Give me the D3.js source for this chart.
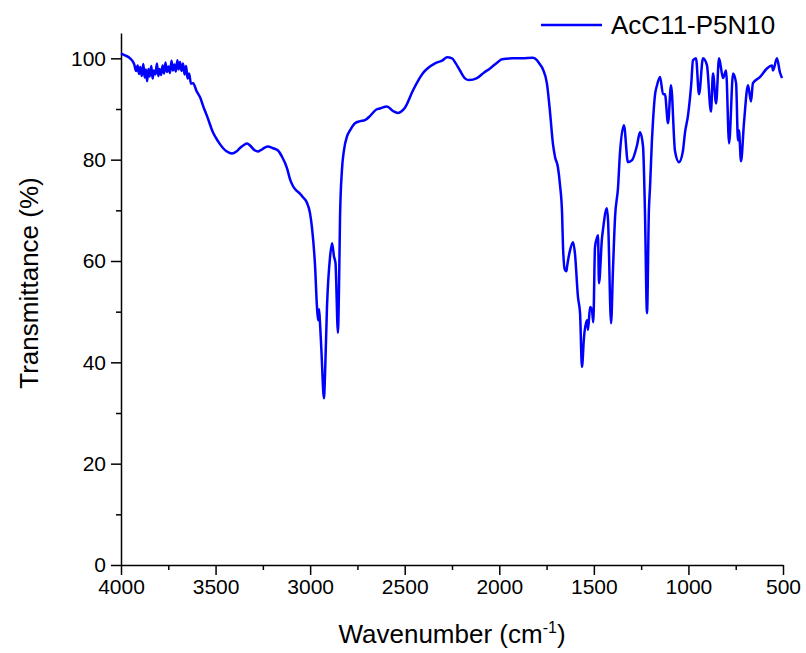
<!DOCTYPE html>
<html>
<head>
<meta charset="utf-8">
<script src="https://cdn.jsdelivr.net/npm/d3@7"></script>
<style>
  body { margin: 0; background: #fff; }
  svg text { font-family: "Liberation Sans", Arial, sans-serif; fill: #000; }
</style>
</head>
<body>
<svg id="chart" width="806" height="653"></svg>
<script>
// spectrum (wavenumber in cm-1, transmittance in %)
var wavenumber = [
  4000, 3979, 3952, 3930, 3920, 3912, 3905, 3898, 3890, 3882, 3875, 3868, 3862, 3855, 3848,
  3840, 3833, 3826, 3818, 3810, 3803, 3796, 3788, 3780, 3772, 3765, 3757, 3749, 3741, 3733,
  3726, 3718, 3710, 3702, 3695, 3688, 3680, 3672, 3664, 3656, 3648, 3640, 3630, 3619, 3600,
  3582, 3560, 3545, 3514, 3490, 3461, 3440, 3413, 3390, 3371, 3350, 3334, 3315, 3295, 3276,
  3260, 3240, 3223, 3200, 3170, 3149, 3122, 3107, 3091, 3080, 3054, 3038, 3017, 3001, 2990,
  2974, 2964, 2958, 2953, 2948, 2940, 2927, 2921, 2911, 2895, 2884, 2874, 2866, 2853, 2847,
  2842, 2832, 2821, 2805, 2789, 2763, 2736, 2710, 2684, 2650, 2631, 2594, 2562, 2536, 2515,
  2498, 2456, 2403, 2340, 2300, 2276, 2250, 2230, 2208, 2180, 2160, 2118, 2080, 2049, 2010,
  1986, 1928, 1880, 1822, 1800, 1785, 1769, 1748, 1732, 1716, 1705, 1690, 1679, 1668, 1663,
  1653, 1645, 1642, 1626, 1610, 1600, 1584, 1573, 1563, 1552, 1536, 1531, 1520, 1510, 1503,
  1494, 1484, 1478, 1473, 1457, 1452, 1431, 1425, 1409, 1399, 1388, 1372, 1362, 1341, 1320,
  1298, 1272, 1256, 1240, 1230, 1219, 1209, 1203, 1193, 1187, 1177, 1166, 1150, 1134, 1124,
  1108, 1092, 1071, 1050, 1030, 1018, 1002, 985, 976, 960, 944, 923, 902, 881, 870,
  854, 838, 817, 801, 785, 764, 748, 738, 733, 722, 706, 685, 669, 659, 622,
  585, 558, 553, 532, 516, 505
];
var transmittance = [
  101.0, 100.6, 100.0, 98.8, 97.5, 98.6, 96.9, 98.3, 96.5, 98.9, 96.2, 97.8, 95.5, 97.9, 96.4,
  98.5, 96.0, 97.6, 96.8, 99.0, 96.5, 97.9, 96.7, 98.6, 97.0, 99.2, 97.3, 98.4, 97.1, 99.5,
  97.6, 98.8, 97.4, 99.6, 97.8, 99.3, 97.5, 99.0, 96.8, 98.5, 96.0, 97.0, 95.0, 95.1, 93.5,
  92.3, 90.0, 88.6, 85.4, 83.8, 82.3, 81.6, 81.2, 81.6, 82.3, 82.9, 83.2, 82.7, 81.9, 81.6,
  81.9, 82.4, 82.6, 82.3, 81.8, 80.6, 78.3, 76.2, 74.8, 74.2, 73.3, 72.6, 71.5, 69.5, 66.5,
  59.0, 51.0, 48.3, 50.5, 47.9, 42.0, 32.9, 38.0, 50.9, 60.7, 63.5, 60.9, 59.6, 45.8, 55.6,
  68.6, 77.9, 81.9, 84.6, 85.8, 87.2, 87.6, 87.8, 88.6, 89.9, 90.1, 90.5, 89.6, 89.2, 89.6,
  90.3, 93.7, 97.1, 99.0, 99.6, 100.2, 100.0, 99.0, 97.6, 96.0, 95.7, 96.1, 97.2, 98.0, 99.2,
  99.8, 100.0, 100.0, 100.1, 99.6, 98.8, 97.8, 95.0, 89.5, 83.0, 80.5, 78.5, 75.0, 69.4, 62.7,
  58.2, 58.0, 58.8, 62.1, 63.7, 61.5, 52.9, 49.7, 39.1, 45.0, 48.3, 46.4, 50.9, 50.3, 47.9,
  62.7, 64.5, 65.1, 55.6, 64.5, 66.1, 70.4, 68.0, 47.7, 58.2, 68.6, 74.6, 81.3, 86.8, 79.5,
  79.9, 82.8, 85.4, 82.6, 70.0, 49.7, 70.0, 74.6, 83.8, 87.8, 92.7, 94.7, 96.3, 92.9, 92.9,
  87.2, 94.7, 81.7, 79.5, 81.5, 85.4, 88.8, 95.0, 99.6, 100.0, 92.9, 100.0, 98.6, 89.5, 97.0,
  91.1, 100.0, 96.1, 97.6, 83.2, 97.0, 95.1, 83.8, 85.8, 79.7, 87.4, 94.7, 91.5, 95.1, 96.3,
  98.0, 98.6, 97.6, 100.0, 97.2, 96.1
];
var xTicks = [4000, 3500, 3000, 2500, 2000, 1500, 1000, 500];
var yTicks = [0, 20, 40, 60, 80, 100];
var seriesName = "AcC11-P5N10";

var svg = d3.select("#chart"),
	margin = {left: 121, right: 23, top: 33, bottom: 88},
	width = +svg.attr("width") - margin.left - margin.right,
	height = +svg.attr("height") - margin.top - margin.bottom;

var x = d3.scaleLinear().domain([4000, 500]).range([0, width]),
	y = d3.scaleLinear().domain([0, 105]).range([height, 0]);

var g = svg.append("g")
	.attr("transform", "translate(" + margin.left + "," + margin.top + ")");

// minor ticks first, majors on top
g.append("g")
	.attr("transform", "translate(0," + height + ")")
	.call(d3.axisBottom(x).tickValues(d3.range(3750, 500, -500)).tickSize(5).tickFormat(""))
	.call(function(a) { a.select(".domain").remove(); });

g.append("g")
	.call(d3.axisLeft(y).tickValues(d3.range(10, 101, 20)).tickSize(5).tickFormat(""))
	.call(function(a) { a.select(".domain").remove(); });

g.append("g")
	.attr("class", "axis axis--x")
	.attr("transform", "translate(0," + height + ")")
	.call(d3.axisBottom(x).tickValues(xTicks).tickFormat(d3.format("d"))
		.tickSize(10).tickSizeOuter(0).tickPadding(4));

g.append("g")
	.attr("class", "axis axis--y")
	.call(d3.axisLeft(y).tickValues(yTicks).tickFormat(d3.format("d"))
		.tickSize(10).tickSizeOuter(0).tickPadding(5));

svg.selectAll(".tick line").attr("stroke", "#000").attr("stroke-width", 1.5);
svg.selectAll(".domain").attr("stroke", "#000").attr("stroke-width", 1.5);
svg.selectAll(".tick text")
	.style("font-family", "'Liberation Sans', Arial, sans-serif")
	.style("font-size", "21px");

// spectrum
var line = d3.line()
	.curve(d3.curveMonotoneX)
	.x(function(d) { return x(d[0]); })
	.y(function(d) { return y(d[1]); });

g.append("path")
	.datum(d3.zip(wavenumber, transmittance))
	.attr("class", "line")
	.attr("fill", "none")
	.attr("stroke", "#0000ff")
	.attr("stroke-width", 2.5)
	.attr("stroke-linejoin", "round")
	.attr("d", line);

// axis titles
var xTitle = svg.append("text")
	.attr("x", margin.left + width / 2)
	.attr("y", 643)
	.attr("text-anchor", "middle")
	.style("font-size", "26px");
xTitle.append("tspan").text("Wavenumber (cm");
xTitle.append("tspan").attr("dy", -10).style("font-size", "16px").text("-1");
xTitle.append("tspan").attr("dy", 10).text(")");

svg.append("text")
	.attr("transform", "translate(38,283) rotate(-90)")
	.attr("text-anchor", "middle")
	.style("font-size", "26px")
	.text("Transmittance (%)");

// legend
svg.append("line")
	.attr("x1", 541).attr("x2", 602)
	.attr("y1", 25).attr("y2", 25)
	.attr("stroke", "#0000ff")
	.attr("stroke-width", 2.5);

svg.append("text")
	.attr("x", 611)
	.attr("y", 34)
	.style("font-size", "26px")
	.text(seriesName);
</script>
</body>
</html>
